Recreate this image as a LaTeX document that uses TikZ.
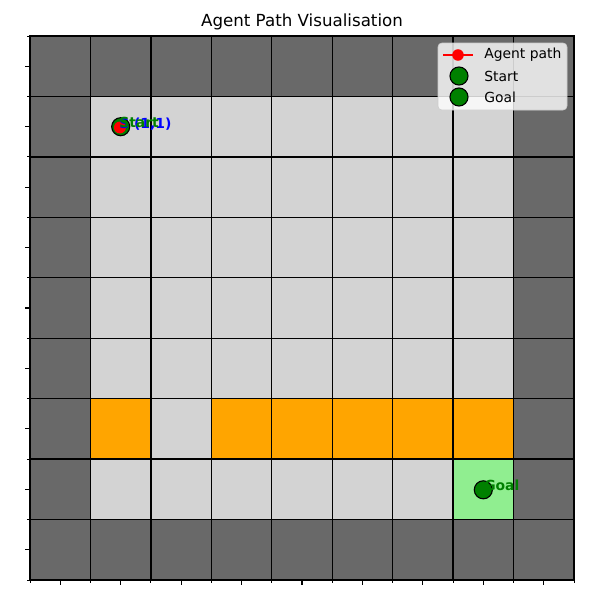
\documentclass[tikz,border=0pt]{standalone}
\usepackage{fontspec}
\setmainfont{DejaVu Sans}
\definecolor{wall}{HTML}{696969}
\definecolor{floor}{HTML}{D3D3D3}
\definecolor{hazard}{HTML}{FFA500}
\definecolor{goallt}{HTML}{90EE90}
\definecolor{mkgreen}{HTML}{008000}
\definecolor{legedge}{HTML}{CCCCCC}
\usetikzlibrary{positioning}
\def\cs{60.444}
\begin{document}
\begin{tikzpicture}[x=0.72pt,y=-0.72pt,
    cell/.style={line width=1pt,draw=black},
    gm/.style={circle,fill=mkgreen,draw=black,line width=0.8pt,
      minimum size=13pt,inner sep=0pt},
    rm/.style={circle,fill=red,inner sep=0pt,minimum size=8.6pt},
    lbl/.style={anchor=west,inner sep=0pt,font=\fontsize{10}{12}\selectfont\bfseries},
    lt/.style={anchor=west,inner sep=0pt,font=\fontsize{10}{12}\selectfont},
  ]
    \useasboundingbox (0,0) rectangle (600,600);
    \fill[white] (0,0) rectangle (600,600);
    % cells
    \fill[wall] (30,36) rectangle ++(9*\cs,9*\cs);
    \fill[floor] (30+\cs,36+\cs) rectangle (30+8*\cs,36+8*\cs);
    \foreach \c in {1,3,4,5,6,7}
      \fill[hazard] (30+\c*\cs,36+6*\cs) rectangle ++(\cs,\cs);
    \fill[goallt] (30+7*\cs,36+7*\cs) rectangle ++(\cs,\cs);
    \foreach \i in {0,...,9}{
      \draw[cell] (30+\i*\cs,36) -- (30+\i*\cs,36+9*\cs);
      \draw[cell] (30,36+\i*\cs) -- (30+9*\cs,36+\i*\cs);
    }
    % ticks
    \foreach \i in {0,...,9}{
      \draw[line width=0.6pt] (30+\i*\cs,580) -- ++(0,2.8);
      \draw[line width=0.6pt] (30,36+\i*\cs) -- ++(-2.8,0);
    }
    \foreach \i in {0,...,8}{
      \draw[line width=0.8pt] (30+\i*\cs+0.5*\cs,580) -- ++(0,4.9);
      \draw[line width=0.8pt] (30,36+\i*\cs+0.5*\cs) -- ++(-4.9,0);
    }
    \draw[line width=0.8pt] (30,36) rectangle (574,580);
    \node[font=\fontsize{12}{14}\selectfont](t) at (302,22) {Agent Path Visualisation};
    % markers
    \node[gm](s) at (120.7,126.7) {};
    \node[rm](ap) at (119.9,127.5) {};
    \node[gm](g) at (483.3,489.8) {};
    \node[lbl,text=blue](sc) at (119,124.5) {S (1,1)};
    \node[lbl,text=mkgreen](sl) at (119,122) {Start};
    \node[lbl,text=mkgreen](gl) at (484,485) {Goal};
    % legend
    \draw[legedge,fill=white,fill opacity=0.8,rounded corners=2.8pt]
      (438,43) rectangle (567,110);
    \coordinate (l1) at (443,55);
    \coordinate (l2) at (473,55);
    \draw[red,line width=1.5pt] (l1) -- (l2);
    \node[rm,minimum size=8.3pt](lr) at (458,55) {};
    \node[gm](lg1) at (459,76) {};
    \node[gm](lg2) at (459,97) {};
    \node[lt](e1) at (484,55) {Agent path};
    \node[lt](e2) at (484,76) {Start};
    \node[lt](e3) at (484,97) {Goal};
  \end{tikzpicture}
\end{document}
